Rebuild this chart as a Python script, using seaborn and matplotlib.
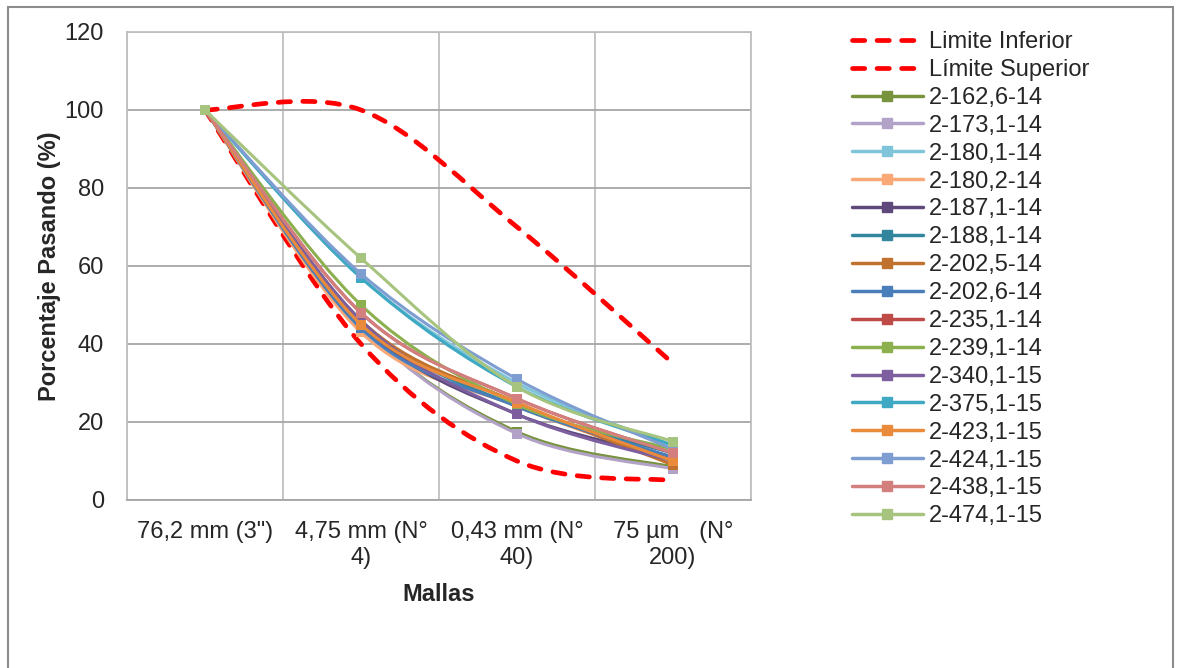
import numpy as np
import pandas as pd
import matplotlib
matplotlib.use("Agg")
import matplotlib.pyplot as plt
from matplotlib.path import Path
from matplotlib.patches import PathPatch, Rectangle
from matplotlib.lines import Line2D
import seaborn as sns

# sieve sizes (x categories)
mallas = ['76,2 mm (3")', '4,75 mm (N°\n4)', '0,43 mm (N°\n40)', '75 µm   (N°\n200)']

# gradation limits
limite_inferior = [100, 40, 10, 5]
limite_superior = [100, 100, 70, 35]

# samples
muestras = ['2-162,6-14', '2-173,1-14', '2-180,1-14', '2-180,2-14', '2-187,1-14',
            '2-188,1-14', '2-202,5-14', '2-202,6-14', '2-235,1-14', '2-239,1-14',
            '2-340,1-15', '2-375,1-15', '2-423,1-15', '2-424,1-15', '2-438,1-15',
            '2-474,1-15']
s_162_6 = [100, 45, 17.5, 8.5]
s_173_1 = [100, 45, 17, 8]
s_180_1 = [100, 57, 30, 14]
s_180_2 = [100, 43, 24, 10]
s_187_1 = [100, 45, 22, 11]
s_188_1 = [100, 46, 24, 12]
s_202_5 = [100, 46, 25, 9]
s_202_6 = [100, 44, 24, 11]
s_235_1 = [100, 48, 26, 12]
s_239_1 = [100, 50, 24.5, 13]
s_340_1 = [100, 46, 22, 10]
s_375_1 = [100, 57, 29, 14]
s_423_1 = [100, 45, 25, 10]
s_424_1 = [100, 58, 31, 13]
s_438_1 = [100, 48, 26, 12]
s_474_1 = [100, 62, 29, 15]
valores = [s_162_6, s_173_1, s_180_1, s_180_2, s_187_1, s_188_1, s_202_5, s_202_6,
           s_235_1, s_239_1, s_340_1, s_375_1, s_423_1, s_424_1, s_438_1, s_474_1]

colores = ['#77933C', '#B3A2C7', '#7FC4D9', '#FAA876', '#5F497A', '#31859C',
           '#C0712E', '#4A7EBB', '#BE4B48', '#8DB04F', '#7D5FA0', '#3FA8C2',
           '#E98B3A', '#7E9ED2', '#D27F7D', '#A7C47E']

sns.set_style("white")
plt.rcParams['font.family'] = ['Liberation Sans', 'DejaVu Sans']
FS = 17


def smooth_path(xs, ys):
    # excel-style smoothed line (catmull-rom as cubic bezier)
    pts = list(zip(xs, ys))
    n = len(pts)
    verts = [pts[0]]
    codes = [Path.MOVETO]
    for i in range(n - 1):
        p0 = pts[max(i - 1, 0)]
        p1 = pts[i]
        p2 = pts[i + 1]
        p3 = pts[min(i + 2, n - 1)]
        c1 = (p1[0] + (p2[0] - p0[0]) / 6, p1[1] + (p2[1] - p0[1]) / 6)
        c2 = (p2[0] - (p3[0] - p1[0]) / 6, p2[1] - (p3[1] - p1[1]) / 6)
        verts += [c1, c2, p2]
        codes += [Path.CURVE4] * 3
    return Path(verts, codes)


fig = plt.figure(figsize=(11.8, 6.68), dpi=100)
ax = fig.add_axes([127 / 1180, 1 - 500 / 668, 624 / 1180, 468 / 668])

x = np.arange(len(mallas))
handles = []

dash = (0, (2.6, 2.6))
for vals, name in [(limite_inferior, 'Limite Inferior'), (limite_superior, 'Límite Superior')]:
    ax.add_patch(PathPatch(smooth_path(x, vals), fill=False, edgecolor='#FF0000',
                           lw=3.4, linestyle=dash, capstyle='round', zorder=3))
    handles.append(Line2D([], [], color='#FF0000', lw=3.4, linestyle=dash,
                          dash_capstyle='round', label=name))

for i, (name, vals) in enumerate(zip(muestras, valores)):
    ax.add_patch(PathPatch(smooth_path(x, vals), fill=False, edgecolor=colores[i],
                           lw=2.2, zorder=4 + i))
    df = pd.DataFrame({'malla': x, 'pasa': vals})
    sns.scatterplot(data=df, x='malla', y='pasa', ax=ax, marker='s', s=55,
                    color=colores[i], edgecolor=colores[i], linewidth=0, zorder=4.5 + i)
    handles.append(Line2D([], [], color=colores[i], lw=2.5, marker='s', markersize=7,
                          label=name))

ax.set_xlim(-0.5, 3.5)
ax.set_ylim(0, 120)
ax.set_yticks(np.arange(0, 121, 20))
ax.set_xticks(x)
ax.set_xticklabels(mallas, fontsize=FS, linespacing=1.25)
ax.set_xticks(np.arange(-0.5, 3.6, 0.5), minor=True)
ax.tick_params(axis='both', which='both', length=0, labelsize=FS)
ax.tick_params(axis='x', pad=15)
ax.tick_params(axis='y', pad=16.5)
ax.grid(True, axis='y', which='major', color='#A6A6A6', lw=1.3)
ax.grid(True, axis='x', which='minor', color='#BFBFBF', lw=1.3)
for sp in ax.spines.values():
    sp.set_color('#BFBFBF')
    sp.set_linewidth(1.3)
ax.spines['bottom'].set_color('#A6A6A6')
ax.set_axisbelow(True)

ax.set_xlabel('Mallas', fontsize=FS, fontweight='bold', va='top')
ax.xaxis.set_label_coords(0.5, -0.178)
ax.set_ylabel('Porcentaje Pasando (%)', fontsize=FS, fontweight='bold')
ax.yaxis.set_label_coords(-0.106, 0.5)

fig.legend(handles=handles, loc='upper left', bbox_to_anchor=(852 / 1180, 1 - 31 / 668),
           frameon=False, fontsize=FS, handlelength=3.0, handletextpad=0.25,
           labelspacing=0.25, borderaxespad=0, borderpad=0, numpoints=1)

# chart area border
fig.patches.append(Rectangle((8 / 1180, -0.02), 1165 / 1180, 1 - 7 / 668 + 0.02,
                             transform=fig.transFigure, fill=False,
                             edgecolor='#8C8C8C', lw=1.5))

fig.savefig('out.png', dpi=100)
